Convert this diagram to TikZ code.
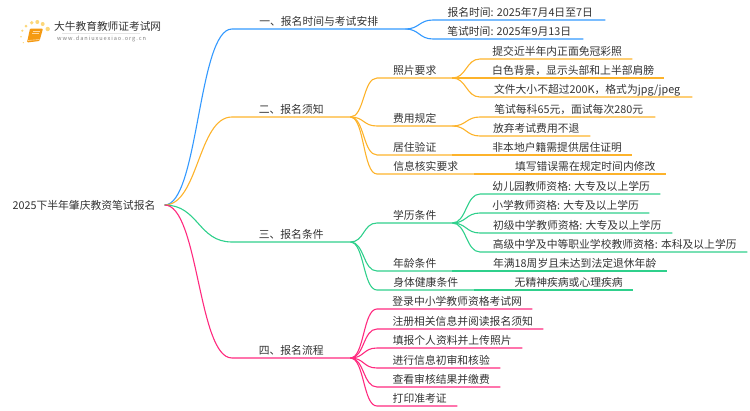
\documentclass[tikz,border=0pt]{standalone}
\usepackage{fontspec}
\setmainfont{Noto Sans CJK SC}
\definecolor{txtgray}{HTML}{333333}
\definecolor{blueline}{HTML}{3399FF}
\definecolor{orangeline}{HTML}{FDB32B}
\definecolor{greenline}{HTML}{2FD08C}
\definecolor{pinkline}{HTML}{FF2A7F}
\definecolor{bookorange}{HTML}{F59A12}
\definecolor{bookedge}{HTML}{FFD9A0}
\definecolor{sundot}{HTML}{FCD77A}
\tikzset{
  item/.style = {anchor=south west, inner xsep=0pt, inner ysep=1.3pt, text height=8.5pt,
    text depth=2pt, text=txtgray, font=\fontsize{10.8pt}{12pt}\selectfont, minimum width=#1},
  leaf/.style = {item=#1, execute at begin node={\hspace*{2pt}}},
  stepbox/.style = {item=#1, execute at begin node={\hspace*{5pt}}},
  wire/.style = {line width=1.1pt},
  branch/.style = {out=0, in=180, distance=34pt},
  twig/.style = {out=0, in=180, distance=14pt}
}
\begin{document}
\begin{tikzpicture}[x=1pt, y=-1pt]
\useasboundingbox (0,0) rectangle (750,410);
% logo
\foreach \x/\y/\r in {47.7/29/2.2, 42.7/24/2, 37.3/22/2, 31.7/22.7/1.9, 26/26/1.5, 22.3/30.7/1.2, 21/36.7/0.9, 23.3/42.7/0.7}
  \fill[sundot] (\x,\y) circle (\r);
\fill[bookorange, rounded corners=1pt] (30,28.5) -- (43,28.5) -- (39.5,41) -- (27,42.5) -- cycle;
\draw[bookedge, line width=0.6pt] (28,40.5) -- (39.5,39.5);
\draw[bookedge, line width=0.5pt] (32.5,31) -- (40,31) (32,33.3) -- (39.3,33.3);
\node [anchor=west, inner sep=0pt, text=txtgray, font=\fontsize{10.7pt}{12pt}\selectfont] (logotitle) at (54,26.5) {大牛教育教师证考试网};
\draw [gray!20, line width=0.5pt] (62,33.5) -- (140,33.5);
\node [anchor=west, inner sep=0pt, text=gray, font=\fontsize{5.6pt}{7pt}\selectfont] (logourl) at (57,39) {w\,w\,w\,.\,d\,a\,n\,i\,u\,x\,u\,e\,x\,i\,a\,o\,.\,o\,r\,g\,.\,c\,n};
% root
\node [text=txtgray, inner xsep=9pt, font=\fontsize{10.8pt}{12pt}\selectfont] (root) at (84,205) {2025下半年肇庆教资笔试报名};
% one
\node [item=173pt] (one) at (232,29) {一、报名时间与考试安排};
\node [leaf=172pt] (signup) at (433,20) {报名时间: 2025年7月4日至7日};
\node [leaf=150pt] (exam) at (433,39) {笔试时间: 2025年9月13日};
\draw [wire, blueline] (root.east) to[branch] (one.south west) -- (one.south east);
\draw [wire, blueline] (one.south east) to[twig] (signup.south west) -- (signup.south east);
\draw [wire, blueline] (one.south east) to[twig] (exam.south west) -- (exam.south east);
% two
\node [item=118pt] (two) at (232,117) {二、报名须知};
\node [item=75pt] (photo) at (377,78) {照片要求};
\node [leaf=152pt] (photoa) at (480,59) {提交近半年内正面免冠彩照};
\node [leaf=184pt] (photob) at (480,78) {白色背景，显示头部和上半部肩膀};
\node [leaf=212pt] (photoc) at (480,97) {文件大小不超过200K，格式为jpg/jpeg};
\node [item=75pt] (fee) at (377,126) {费用规定};
\node [leaf=175pt] (feea) at (480,117) {笔试每科65元，面试每次280元};
\node [leaf=110pt] (feeb) at (480,136) {放弃考试费用不退};
\node [item=75pt] (home) at (377,155) {居住验证};
\node [leaf=152pt] (homea) at (480,155) {非本地户籍需提供居住证明};
\node [item=97pt] (check) at (377,174) {信息核实要求};
\node [item=186pt, execute at begin node={\hspace*{24pt}}] (checka) at (480,174) {填写错误需在规定时间内修改};
\draw [wire, orangeline] (root.east) to[branch] (two.south west) -- (two.south east);
\foreach \mid in {photo, fee, home, check}
  \draw [wire, orangeline] (two.south east) to[twig] (\mid.south west) -- (\mid.south east);
\foreach \sub in {photoa, photob, photoc}
  \draw [wire, orangeline] (photo.south east) to[twig] (\sub.south west) -- (\sub.south east);
\foreach \sub in {feea, feeb}
  \draw [wire, orangeline] (fee.south east) to[twig] (\sub.south west) -- (\sub.south east);
\draw [wire, orangeline] (home.south east) -- (homea.south west) -- (homea.south east);
\draw [wire, orangeline] (check.south east) -- (checka.south west) -- (checka.south east);
% three
\node [item=118pt] (three) at (232,242) {三、报名条件};
\node [item=75pt] (edu) at (377,223) {学历条件};
\node [leaf=180pt] (edua) at (480,194) {幼儿园教师资格: 大专及以上学历};
\node [leaf=169pt] (edub) at (480,213) {小学教师资格: 大专及以上学历};
\node [leaf=192pt] (educ) at (480,233) {初级中学教师资格: 大专及以上学历};
\node [leaf=267pt] (edud) at (480,252) {高级中学及中等职业学校教师资格: 本科及以上学历};
\node [item=75pt] (age) at (377,271) {年龄条件};
\node [leaf=187pt] (agea) at (480,271) {年满18周岁且未达到法定退休年龄};
\node [item=97pt] (health) at (377,290) {身体健康条件};
\node [item=153pt, execute at begin node={\hspace*{24pt}}] (healtha) at (480,290) {无精神疾病或心理疾病};
\draw [wire, greenline] (root.east) to[branch] (three.south west) -- (three.south east);
\foreach \mid in {edu, age, health}
  \draw [wire, greenline] (three.south east) to[twig] (\mid.south west) -- (\mid.south east);
\foreach \sub in {edua, edub, educ, edud}
  \draw [wire, greenline] (edu.south east) to[twig] (\sub.south west) -- (\sub.south east);
\draw [wire, greenline] (age.south east) -- (agea.south west) -- (agea.south east);
\draw [wire, greenline] (health.south east) -- (healtha.south west) -- (healtha.south east);
% four
\node [item=118pt] (four) at (232,358) {四、报名流程};
\node [stepbox=155pt] (stepa) at (377,309) {登录中小学教师资格考试网};
\node [stepbox=166pt] (stepb) at (377,329) {注册相关信息并阅读报名须知};
\node [stepbox=145pt] (stepc) at (377,348) {填报个人资料并上传照片};
\node [stepbox=123pt] (stepd) at (377,368) {进行信息初审和核验};
\node [stepbox=123pt] (stepe) at (377,387) {查看审核结果并缴费};
\node [stepbox=80pt] (stepf) at (377,406) {打印准考证};
\draw [wire, pinkline] (root.east) to[branch] (four.south west) -- (four.south east);
\foreach \sub in {stepa, stepb, stepc, stepd, stepe, stepf}
  \draw [wire, pinkline] (four.south east) to[twig] (\sub.south west) -- (\sub.south east);
\end{tikzpicture}
\end{document}
